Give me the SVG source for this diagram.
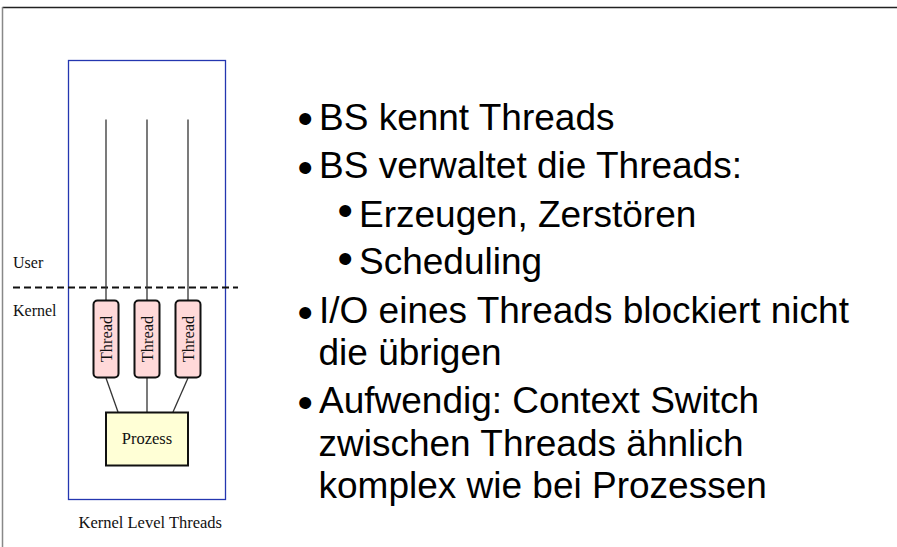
<svg xmlns="http://www.w3.org/2000/svg" width="897" height="547" viewBox="0 0 897 547">
  <style>
    .serif { font-family: "Liberation Serif", "Times New Roman", serif; fill: #111; }
    .sans { font-family: "Liberation Sans", Arial, sans-serif; fill: #000; font-size: 37px; }
    .bul { font-family: "Liberation Sans", Arial, sans-serif; fill: #000; font-size: 44px; }
    .thread rect { fill: #ffd9d9; stroke: #111; stroke-width: 2; }
    .wire { stroke: #333; stroke-width: 1.3; fill: none; }
  </style>

  <!-- frame -->
  <line x1="2.5" y1="7.5" x2="897" y2="7.5" stroke="#222" stroke-width="1.4"/>
  <line x1="2.5" y1="7" x2="2.5" y2="547" stroke="#888" stroke-width="1.5"/>

  <!-- container of the kernel level thread model -->
  <rect x="68.5" y="60.5" width="157" height="439" fill="none" stroke="#2436b0" stroke-width="1.3"/>

  <!-- user / kernel boundary -->
  <line x1="13" y1="287.5" x2="238" y2="287.5" stroke="#111" stroke-width="2" stroke-dasharray="7,4"/>
  <text class="serif" x="13" y="268" font-size="16">User</text>
  <text class="serif" x="13" y="316" font-size="16">Kernel</text>

  <!-- connectors -->
  <g id="connectors">
    <line class="wire" x1="106" y1="119.5" x2="106" y2="300"/>
    <line class="wire" x1="147" y1="119.5" x2="147" y2="300"/>
    <line class="wire" x1="188" y1="119.5" x2="188" y2="300"/>
    <line class="wire" x1="106" y1="378" x2="118" y2="412"/>
    <line class="wire" x1="147" y1="378" x2="147" y2="412"/>
    <line class="wire" x1="188" y1="378" x2="173" y2="412"/>
  </g>

  <!-- threads -->
  <g id="thread1" class="thread">
    <rect x="93.5" y="300.5" width="25" height="77" rx="4"/>
    <text class="serif" font-size="16.5" text-anchor="middle" transform="translate(112,339) rotate(-90)">Thread</text>
  </g>
  <g id="thread2" class="thread">
    <rect x="134.5" y="300.5" width="25" height="77" rx="4"/>
    <text class="serif" font-size="16.5" text-anchor="middle" transform="translate(153,339) rotate(-90)">Thread</text>
  </g>
  <g id="thread3" class="thread">
    <rect x="175.5" y="300.5" width="25" height="77" rx="4"/>
    <text class="serif" font-size="16.5" text-anchor="middle" transform="translate(194,339) rotate(-90)">Thread</text>
  </g>

  <!-- process -->
  <g id="prozess">
    <rect x="106" y="412.5" width="82" height="53" fill="#ffffd6" stroke="#111" stroke-width="2"/>
    <text class="serif" x="147" y="444" font-size="16.5" text-anchor="middle">Prozess</text>
  </g>

  <text class="serif" x="78.5" y="528" font-size="16.5">Kernel Level Threads</text>

  <!-- bullet list -->
  <g id="bullets">
    <text class="bul" x="297.5" y="134">•</text>
    <text class="sans" x="319" y="130">BS kennt Threads</text>

    <text class="bul" x="297.5" y="182.5">•</text>
    <text class="sans" x="319" y="178.3">BS verwaltet die Threads:</text>

    <text class="bul" x="337.5" y="226">•</text>
    <text class="sans" x="359" y="226.7">Erzeugen, Zerstören</text>

    <text class="bul" x="337.5" y="274">•</text>
    <text class="sans" x="359" y="274.3">Scheduling</text>

    <text class="bul" x="297.5" y="328">•</text>
    <text class="sans" x="319" y="323.3">I/O eines Threads blockiert nicht</text>
    <text class="sans" x="318.5" y="364.5">die übrigen</text>

    <text class="bul" x="297.5" y="418">•</text>
    <text class="sans" x="319" y="413.3">Aufwendig: Context Switch</text>
    <text class="sans" x="318.5" y="455.5">zwischen Threads ähnlich</text>
    <text class="sans" x="318.5" y="497.5">komplex wie bei Prozessen</text>
  </g>
</svg>
